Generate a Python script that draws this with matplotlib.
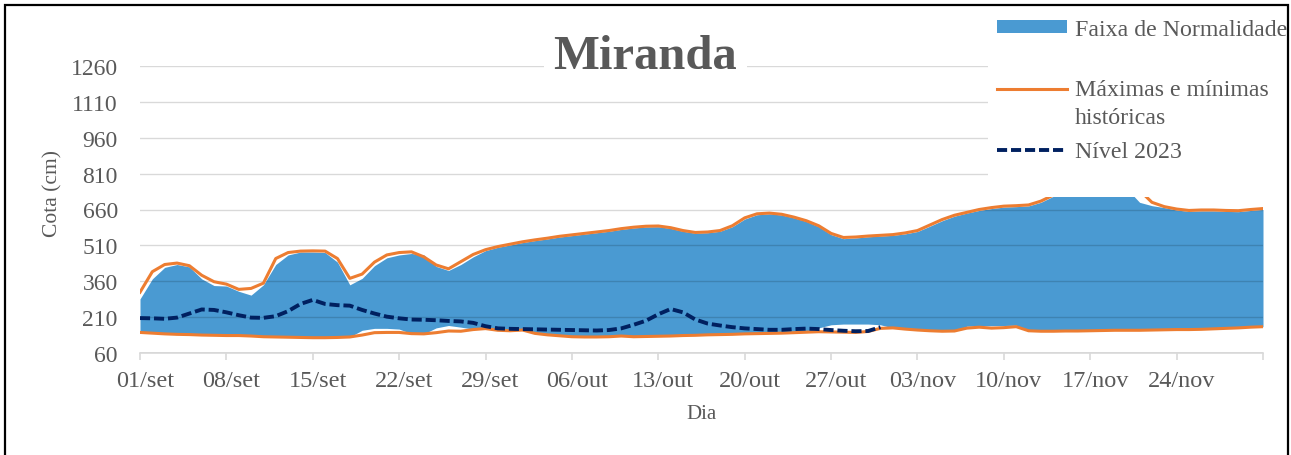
import numpy as np
import matplotlib
matplotlib.use("Agg")
import matplotlib.pyplot as plt
from matplotlib.patches import Rectangle, Patch
from matplotlib.lines import Line2D
from matplotlib.legend_handler import HandlerLine2D
from matplotlib.transforms import ScaledTranslation

## DATA ##

# dias desde 01/set (0..91)
dias = np.arange(92)

tick_labels = ["01/set", "08/set", "15/set", "22/set", "29/set", "06/out", "13/out",
               "20/out", "27/out", "03/nov", "10/nov", "17/nov", "24/nov"]

# maximas historicas (cm)
max_hist = [314, 400, 430, 436, 425, 385, 358, 348, 326, 330,
            352, 455, 480, 486, 487, 486, 455, 372, 390, 440,
            470, 480, 483, 462, 428, 412, 442, 472, 492, 505,
            515, 525, 533, 540, 548, 554, 560, 566, 572, 580,
            586, 590, 591, 584, 572, 564, 566, 572, 592, 625,
            642, 645, 640, 628, 613, 592, 560, 543, 545, 549,
            552, 555, 562, 572, 595, 618, 636, 648, 660, 668,
            674, 676, 679, 695, 720, 745, 760, 765, 765, 760,
            755, 740, 690, 672, 662, 656, 658, 658, 656, 655,
            660, 664]

# minimas historicas (cm)
min_hist = [146, 143, 140, 138, 137, 135, 134, 133, 133, 131,
            128, 127, 126, 125, 124, 124, 125, 127, 135, 145,
            146, 146, 141, 140, 145, 152, 151, 158, 162, 155,
            153, 156, 142, 136, 132, 128, 127, 127, 128, 131,
            128, 129, 130, 131, 133, 134, 136, 137, 138, 140,
            141, 142, 143, 145, 147, 149, 148, 147, 146, 150,
            163, 165, 160, 156, 153, 151, 152, 164, 168, 164,
            166, 170, 153, 151, 151, 152, 152, 153, 154, 155,
            155, 155, 156, 157, 158, 158, 159, 161, 163, 165,
            168, 170]

# faixa de normalidade - limite superior
faixa_sup = [286, 370, 418, 430, 420, 370, 342, 340, 318, 302,
             345, 430, 470, 482, 482, 480, 440, 345, 372, 425,
             458, 470, 476, 470, 422, 405, 430, 462, 488, 502,
             512, 522, 530, 537, 545, 551, 557, 563, 569, 577,
             583, 587, 588, 581, 569, 561, 563, 569, 588, 620,
             638, 642, 637, 625, 610, 588, 555, 538, 541, 546,
             549, 552, 558, 568, 590, 613, 632, 645, 656, 664,
             670, 672, 675, 690, 715, 740, 755, 760, 760, 755,
             745, 690, 676, 668, 658, 652, 654, 654, 652, 651,
             656, 660]

# faixa de normalidade - limite inferior
faixa_inf = [146, 143, 140, 138, 137, 135, 134, 133, 133, 131,
             128, 127, 126, 125, 124, 124, 125, 127, 155, 163,
             163, 160, 141, 140, 165, 175, 168, 160, 162, 155,
             153, 156, 142, 136, 132, 128, 127, 127, 128, 131,
             128, 129, 130, 131, 133, 134, 136, 137, 138, 140,
             141, 142, 143, 145, 147, 165, 178, 181, 181, 181,
             178, 165, 160, 156, 153, 151, 152, 172, 174, 174,
             175, 176, 155, 151, 151, 152, 152, 153, 154, 155,
             155, 155, 156, 157, 158, 158, 159, 161, 163, 165,
             168, 170]

# nivel 2023 (ate 31/out)
nivel_2023 = [206, 205, 203, 208, 225, 242, 240, 230, 218, 208,
              207, 214, 235, 265, 282, 265, 260, 258, 240, 225,
              212, 205, 200, 199, 197, 194, 192, 186, 172, 163,
              161, 160, 159, 158, 157, 156, 155, 154, 156, 163,
              178, 195, 222, 244, 230, 200, 183, 175, 168, 163,
              160, 157, 157, 160, 162, 160, 156, 153, 151, 152,
              168]

## STYLE ##
azul = "#4A9AD2"
laranja = "#ED7D31"
marinho = "#002060"
cinza_txt = "#595959"
plt.rcParams['font.family'] = ['Liberation Serif', 'DejaVu Serif']


# put the legend line on the first text line, like Excel does
class FirstLineHandler(HandlerLine2D):
    def create_artists(self, legend, orig_handle, xdescent, ydescent,
                       width, height, fontsize, trans):
        return super().create_artists(legend, orig_handle, xdescent, ydescent - 22,
                                      width, height, fontsize, trans)


W, H = 1291, 456
fig = plt.figure(figsize=(W / 100, H / 100), dpi=100)
ax = fig.add_axes([140 / W, 1 - 354 / H, (1263 - 140) / W, (354 - 67) / H])

ax.fill_between(dias, faixa_inf, faixa_sup, color=azul, lw=0, zorder=1)
ax.plot(dias, max_hist, color=laranja, lw=2.2, zorder=3)
ax.plot(dias, min_hist, color=laranja, lw=2.2, zorder=3)
ax.plot(dias[:len(nivel_2023)], nivel_2023, color=marinho, lw=2.8,
        dashes=(2.6, 1.0), zorder=4)

ax.set_xlim(0, 91)
ax.set_ylim(60, 1260)
ax.set_yticks(np.arange(60, 1261, 150))
ax.set_xticks(list(range(0, 91, 7)) + [91])
ax.set_xticklabels(tick_labels + [""])

# grid drawn over the band so it shows through slightly darker
ax.set_axisbelow(False)
ax.yaxis.grid(True, color="black", alpha=0.15, lw=1.0)
for s in ["top", "right", "left"]:
    ax.spines[s].set_visible(False)
ax.spines["bottom"].set_color("#D9D9D9")
ax.spines["bottom"].set_linewidth(1.2)

ax.tick_params(axis="y", length=0, pad=16, labelsize=17, labelcolor=cinza_txt)
ax.tick_params(axis="x", length=5, width=1.2, color="#D9D9D9", pad=7,
               labelsize=17.5, labelcolor=cinza_txt)
off = ScaledTranslation(5 / 100, 0, fig.dpi_scale_trans)
for lab in ax.get_xticklabels():
    lab.set_transform(lab.get_transform() + off)

ax.set_xlabel("Dia", fontsize=15, color=cinza_txt)
ax.xaxis.label.set_va("center")
ax.xaxis.set_label_coords(0.5, (354 - 415) / 287)
ax.set_ylabel("Cota (cm)", fontsize=15.5, color=cinza_txt)
ax.yaxis.label.set_va("center")
ax.yaxis.set_label_coords((53 - 140) / 1123, (354 - 194) / 287)

# legend area (white background hides what is behind it)
ax.add_patch(Rectangle((988 / W, 1 - 198 / H), 1 - 988 / W, 198 / H,
                       transform=fig.transFigure, facecolor="white",
                       edgecolor="none", clip_on=False, zorder=5))
leg_kw = dict(loc="upper left", bbox_transform=fig.transFigure, frameon=False,
              fontsize=17.2, handlelength=2.92, handleheight=0.45,
              handletextpad=0.34, borderpad=0, borderaxespad=0)
linha_hist = Line2D([], [], color=laranja, lw=2.2)
leg1 = ax.legend([Patch(facecolor=azul, edgecolor="none")], ["Faixa de Normalidade"],
                 bbox_to_anchor=(997 / W, 1 - 20 / H), **leg_kw)
leg1.set_zorder(6)
ax.add_artist(leg1)
leg2 = ax.legend([linha_hist, Line2D([], [], color=marinho, lw=2.8, dashes=(2.6, 1.0))],
                 ["Máximas e mínimas\nhistóricas", "Nível 2023"],
                 bbox_to_anchor=(997 / W, 1 - 80 / H), labelspacing=0.55,
                 handler_map={linha_hist: FirstLineHandler()}, **leg_kw)
leg2.set_zorder(6)
for lg in (leg1, leg2):
    for t in lg.get_texts():
        t.set_color(cinza_txt)
        t.set_linespacing(1.45)

fig.text(0.5, 1 - 57 / H, "Miranda", ha="center", va="center", fontsize=35,
         fontweight="bold", color=cinza_txt,
         bbox=dict(boxstyle="square,pad=0.2", facecolor="white", edgecolor="none"))

# moldura
fig.add_artist(Rectangle((5 / W, -0.02), (1288 - 5) / W, 1.02 - 6 / H,
                         transform=fig.transFigure, fill=False,
                         edgecolor="black", lw=1.6))

fig.savefig("out.png", dpi=100)
